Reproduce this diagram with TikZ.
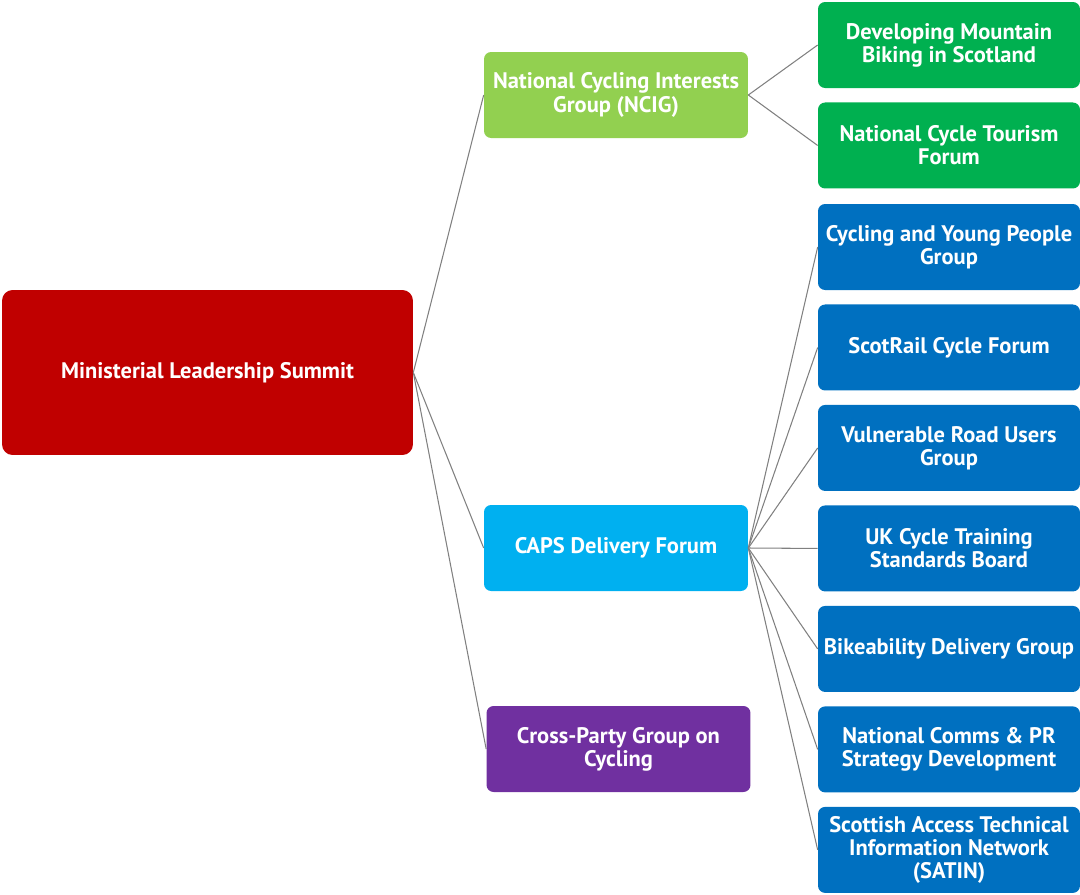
\documentclass[tikz,border=0pt]{standalone}
\usepackage{fontspec}
\setmainfont{PT Sans}
\usepackage{xcolor}
\usepackage{tikz}
\usetikzlibrary{positioning}
\definecolor{summitred}{HTML}{C00000}
\definecolor{ncigcol}{HTML}{92D050}
\definecolor{ncigsub}{HTML}{00B050}
\definecolor{capscol}{HTML}{00B0F0}
\definecolor{capssub}{HTML}{0070C0}
\definecolor{cpgcol}{HTML}{7030A0}
\definecolor{linkgray}{HTML}{808080}
\tikzset{
    group/.style={
        rectangle,
        rounded corners=4pt,
        draw=none,
        text=white,
        align=center,
        font=\bfseries\fontsize{12.8}{13.2}\selectfont,
        minimum width=5.28cm,
        minimum height=1.72cm,
        inner sep=2pt,
    },
    summit/.style={
        group,
        fill=summitred,
        rounded corners=6pt,
        minimum width=8.22cm,
        minimum height=3.3cm,
    },
    link/.style={
        draw=linkgray,
        line width=0.6pt,
    },
}

\begin{document}
\begin{tikzpicture}[x=0.02cm, y=-0.02cm, node distance=2.01cm, on grid]
      \useasboundingbox (0,0) rectangle (1080,894);

      \node[summit] (mls) at (207.5,372.5) {Ministerial Leadership Summit};

      \node[group, fill=ncigcol] (ncig) at (616,95) {National Cycling Interests\\Group (NCIG)};
      \node[group, fill=capscol] (caps) at (616,548) {CAPS Delivery Forum};
      \node[group, fill=cpgcol] (cpg) at (618.5,749) {Cross-Party Group on\\Cycling};

      \node[group, fill=ncigsub, minimum width=5.24cm] (dmb) at (949,45) {Developing Mountain\\Biking in Scotland};
      \node[group, fill=ncigsub, minimum width=5.24cm, below=of dmb] (ncf) {National Cycle Tourism\\Forum};

      \node[group, fill=capssub, minimum width=5.24cm] (cyp) at (949,247) {Cycling and Young People\\Group};
      \node[group, fill=capssub, minimum width=5.24cm, below=of cyp] (scf) {ScotRail Cycle Forum};
      \node[group, fill=capssub, minimum width=5.24cm, below=of scf] (vru) {Vulnerable Road Users\\Group};
      \node[group, fill=capssub, minimum width=5.24cm, below=of vru] (ukc) {UK Cycle Training\\Standards Board};
      \node[group, fill=capssub, minimum width=5.24cm, below=of ukc] (bdg) {Bikeability Delivery Group};
      \node[group, fill=capssub, minimum width=5.24cm, below=of bdg] (ncp) {National Comms \& PR\\Strategy Development};
      \node[group, fill=capssub, minimum width=5.24cm, below=of ncp] (satin) {Scottish Access Technical\\Information Network\\(SATIN)};

      % summit to its three groups
      \foreach \g in {ncig, caps, cpg}
        \draw[link] (mls.east) -- (\g.west);

      \foreach \s in {dmb, ncf}
        \draw[link] (ncig.east) -- (\s.west);

      \foreach \s in {cyp, scf, vru, ukc, bdg, ncp, satin}
        \draw[link] (caps.east) -- (\s.west);
    \end{tikzpicture}
\end{document}
